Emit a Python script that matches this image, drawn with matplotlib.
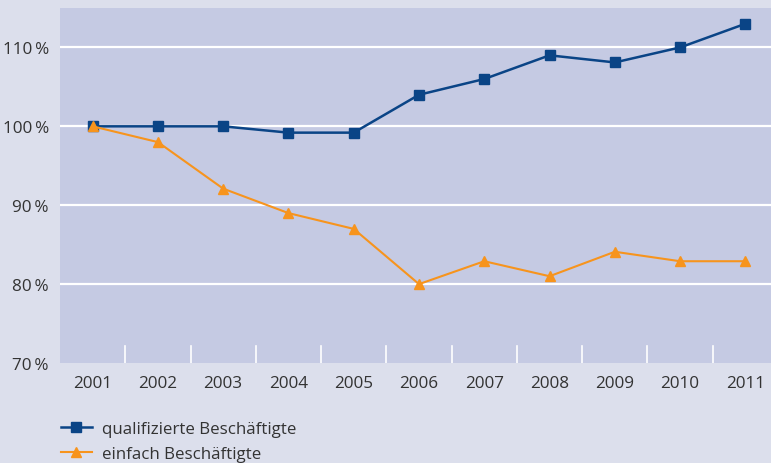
import numpy as np
import matplotlib.pyplot as plt
from matplotlib.lines import Line2D

years = ['2001', '2002', '2003', '2004', '2005', '2006', '2007', '2008', '2009', '2010', '2011']
qualifiziert = [100, 100, 100, 99.2, 99.2, 104, 106, 109, 108.1, 110, 113]
einfach = [100, 98, 92.1, 89, 87, 80, 82.9, 81, 84.1, 82.9, 82.9]
yticks = [70, 80, 90, 100, 110]
ylabels = ['70\u2009%', '80\u2009%', '90\u2009%', '100\u2009%', '110\u2009%']

navy = '#0a4486'
orange = '#f7941d'
txt = '#333333'

plt.rcParams['font.family'] = ['Open Sans', 'DejaVu Sans']

fig = plt.figure(figsize=(7.71, 4.64), dpi=100, facecolor='#dcdfec')
# plot area runs past the right edge of the picture
ax = fig.add_axes([60/771, 100/464, 718/771, 355/464])
ax.set_facecolor('#c5cae3')

x = np.arange(len(years))
ax.set_xlim(-0.5, len(years) - 0.5)
ax.set_ylim(70, 115)

for v in yticks[1:]:
    ax.axhline(v, color='white', lw=1.6, zorder=1)
for b in x[:-1] + 0.5:
    ax.plot([b, b], [70, 72.2], color='white', lw=1.2, zorder=1)

ax.plot(x, qualifiziert, color=navy, lw=1.8, marker='s', ms=6.5, zorder=3)
ax.plot(x, einfach, color=orange, lw=1.5, marker='^', ms=7, zorder=4)

for s in ax.spines.values():
    s.set_visible(False)
ax.set_xticks(x)
ax.set_xticklabels(years, fontsize=12.3, color=txt)
ax.set_yticks(yticks)
ax.set_yticklabels(ylabels, fontsize=12.3, color=txt)
ax.tick_params(length=0, pad=8)
ax.tick_params(axis='x', pad=9)

handles = [Line2D([], [], color=navy, lw=1.8, marker='s', ms=6.5),
           Line2D([], [], color=orange, lw=1.5, marker='^', ms=7)]
fig.legend(handles, ['qualifizierte Beschäftigte', 'einfach Beschäftigte'],
           loc='upper left', bbox_to_anchor=(61/771, 1 - 422/464), frameon=False,
           fontsize=12.2, labelcolor=txt, handlelength=1.8, handletextpad=0.6,
           labelspacing=0.52, borderaxespad=0, borderpad=0)

fig.savefig('out.png', dpi=100, facecolor=fig.get_facecolor())
